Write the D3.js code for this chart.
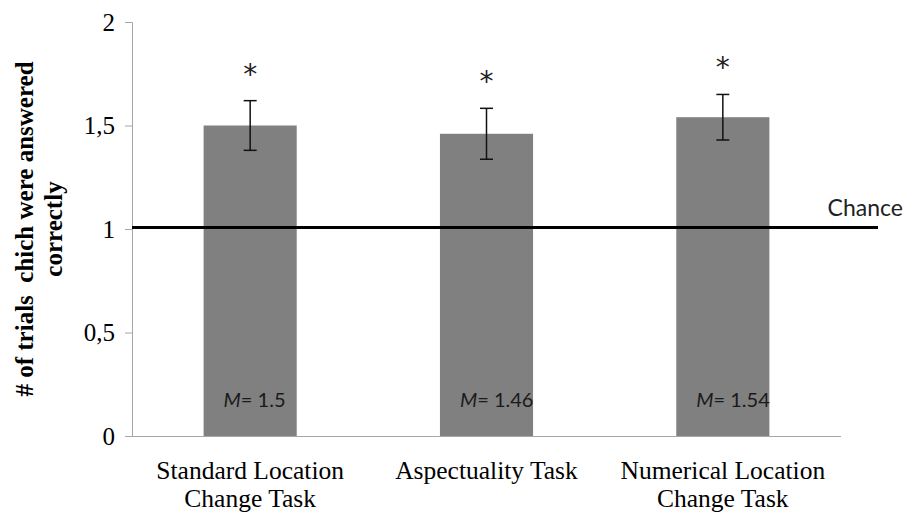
<!DOCTYPE html>
<html>
<head>
<meta charset="utf-8">
<script src="https://cdn.jsdelivr.net/npm/d3@7"></script>
<style>
  body { margin: 0; background: #fff; }
  svg { display: block; }
</style>
</head>
<body>
<div id="chart"></div>
<script>
// values
const categories = ["Standard Location Change Task", "Aspectuality Task", "Numerical Location Change Task"];
const categoryLines = [["Standard Location", "Change Task"], ["Aspectuality Task"], ["Numerical Location", "Change Task"]];
const means = [1.50, 1.46, 1.54];
const errors = [0.12, 0.123, 0.11];
const meanLabels = ["1.5", "1.46", "1.54"];
const yTicks = [0, 0.5, 1, 1.5, 2];
const chance = 1;

const width = 905;
const height = 513;
const plot = { left: 132, right: 841, top: 22, bottom: 436 };

const svg = d3.select("#chart")
    .append("svg")
    .attr("width", width)
    .attr("height", height);

const x = d3.scaleBand()
    .domain(categories)
    .range([plot.left, plot.right])
    .padding(0);

const y = d3.scaleLinear()
    .domain([0, 2])
    .range([plot.bottom, plot.top]);

const barW = x.bandwidth() * 0.394;
const cx = d => x(d) + x.bandwidth() / 2;

// y axis
const yAxis = svg.append("g")
    .attr("transform", "translate(" + plot.left + ",0)")
    .call(d3.axisLeft(y).tickValues(yTicks).tickSize(7).tickPadding(10)
        .tickFormat(d => String(d).replace(".", ",")));
yAxis.select(".domain").attr("stroke", "#a6a6a6");
yAxis.selectAll(".tick line").attr("stroke", "#a6a6a6");
yAxis.selectAll(".tick text")
    .attr("font-family", "'Liberation Serif', 'Times New Roman', serif")
    .attr("font-size", 25)
    .attr("fill", "#000");

// bars
svg.append("g")
    .selectAll("rect")
    .data(categories)
    .enter()
    .append("rect")
    .attr("x", d => cx(d) - barW / 2)
    .attr("width", barW)
    .attr("y", (d, i) => y(means[i]))
    .attr("height", (d, i) => y(0) - y(means[i]))
    .attr("fill", "#808080");

// x axis line (no ticks)
svg.append("line")
    .attr("x1", plot.left - 7)
    .attr("x2", plot.right)
    .attr("y1", y(0) + 0.5)
    .attr("y2", y(0) + 0.5)
    .attr("stroke", "#a6a6a6");

// chance line
svg.append("line")
    .attr("x1", plot.left)
    .attr("x2", 878)
    .attr("y1", y(chance) - 1.5)
    .attr("y2", y(chance) - 1.5)
    .attr("stroke", "#000")
    .attr("stroke-width", 3);

svg.append("text")
    .attr("x", 903)
    .attr("y", y(chance) - 13)
    .attr("text-anchor", "end")
    .attr("font-family", "Lato, 'Open Sans', sans-serif")
    .attr("font-size", 23)
    .attr("fill", "#222")
    .text("Chance");

// error bars
const err = svg.append("g")
    .attr("stroke", "#111")
    .attr("stroke-width", 1.5);

categories.forEach(function(c, i) {
    const hi = y(means[i] + errors[i]);
    const lo = y(means[i] - errors[i]);
    err.append("line").attr("x1", cx(c)).attr("x2", cx(c)).attr("y1", hi).attr("y2", lo);
    err.append("line").attr("x1", cx(c) - 6.5).attr("x2", cx(c) + 6.5).attr("y1", hi).attr("y2", hi);
    err.append("line").attr("x1", cx(c) - 6.5).attr("x2", cx(c) + 6.5).attr("y1", lo).attr("y2", lo);
});

// significance stars
svg.append("g")
    .selectAll("text")
    .data(categories)
    .enter()
    .append("text")
    .attr("x", d => cx(d))
    .attr("y", (d, i) => y(means[i] + errors[i]) - 17)
    .attr("text-anchor", "middle")
    .attr("font-family", "'DejaVu Sans', sans-serif")
    .attr("font-size", 28)
    .attr("fill", "#222")
    .text("*");

// mean labels inside bars
const ml = svg.append("g")
    .selectAll("text")
    .data(categories)
    .enter()
    .append("text")
    .attr("x", d => cx(d) - barW / 2 + 20)
    .attr("y", 407)
    .attr("font-family", "Lato, 'Open Sans', sans-serif")
    .attr("font-size", 20)
    .attr("fill", "#1a1a1a");
ml.append("tspan").attr("font-style", "italic").text("M");
ml.append("tspan").text((d, i) => "= " + meanLabels[i]);

// category labels
const cl = svg.append("g")
    .selectAll("text")
    .data(categories)
    .enter()
    .append("text")
    .attr("x", d => cx(d))
    .attr("y", 479)
    .attr("text-anchor", "middle")
    .attr("font-family", "'Liberation Serif', 'Times New Roman', serif")
    .attr("font-size", 25.5)
    .attr("fill", "#000");
cl.selectAll("tspan")
    .data((d, i) => categoryLines[i])
    .enter()
    .append("tspan")
    .attr("x", function() { return this.parentNode.getAttribute("x"); })
    .attr("dy", (d, j) => j === 0 ? 0 : 28)
    .text(d => d);

// y axis title
const title = svg.append("text")
    .attr("transform", "translate(33," + (plot.top + plot.bottom) / 2 + ") rotate(-90)")
    .attr("text-anchor", "middle")
    .attr("font-family", "'Liberation Serif', 'Times New Roman', serif")
    .attr("font-weight", "bold")
    .attr("font-size", 25)
    .attr("fill", "#000");
title.append("tspan").attr("x", 0).attr("y", 0).attr("xml:space", "preserve").text("# of trials  chich were answered");
title.append("tspan").attr("x", 0).attr("y", 29).text("correctly");
</script>
</body>
</html>
